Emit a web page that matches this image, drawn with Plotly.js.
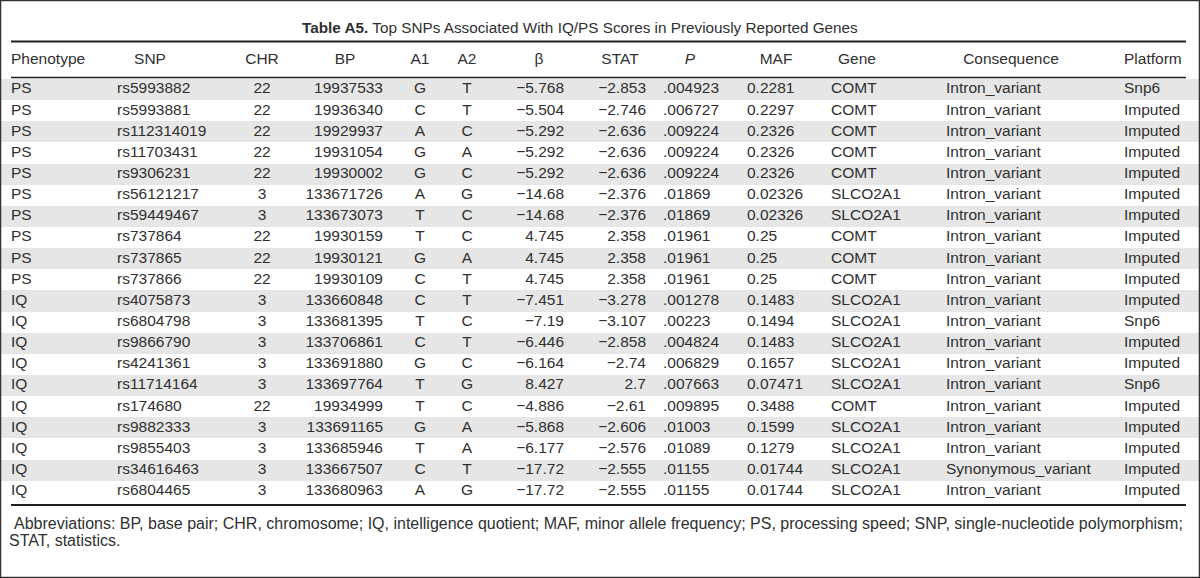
<!DOCTYPE html>
<html>
<head>
<meta charset="utf-8">
<script src="https://cdn.plot.ly/plotly-3.0.1.min.js"></script>
<style>
html,body{margin:0;padding:0;background:#fff;}
#chart{width:1200px;height:578px;}
</style>
</head>
<body>
<div id="chart"></div>
<script>
// ---- data ----
const headers = ['Phenotype','SNP','CHR','BP','A1','A2','\u03b2','STAT','<i>P</i>','MAF','Gene','Consequence','Platform'];
const phenotype = ['PS','PS','PS','PS','PS','PS','PS','PS','PS','PS','IQ','IQ','IQ','IQ','IQ','IQ','IQ','IQ','IQ','IQ'];
const snp = ['rs5993882','rs5993881','rs112314019','rs11703431','rs9306231','rs56121217','rs59449467','rs737864','rs737865','rs737866',
             'rs4075873','rs6804798','rs9866790','rs4241361','rs11714164','rs174680','rs9882333','rs9855403','rs34616463','rs6804465'];
const chr = [22,22,22,22,22,3,3,22,22,22,3,3,3,3,3,22,3,3,3,3];
const bp = [19937533,19936340,19929937,19931054,19930002,133671726,133673073,19930159,19930121,19930109,
            133660848,133681395,133706861,133691880,133697764,19934999,133691165,133685946,133667507,133680963];
const a1 = ['G','C','A','G','G','A','T','T','G','C','C','T','C','G','T','T','G','T','C','A'];
const a2 = ['T','T','C','A','C','G','C','C','A','T','T','C','T','C','G','C','A','A','T','G'];
const beta = [-5.768,-5.504,-5.292,-5.292,-5.292,-14.68,-14.68,4.745,4.745,4.745,
              -7.451,-7.19,-6.446,-6.164,8.427,-4.886,-5.868,-6.177,-17.72,-17.72];
const stat = [-2.853,-2.746,-2.636,-2.636,-2.636,-2.376,-2.376,2.358,2.358,2.358,
              -3.278,-3.107,-2.858,-2.74,2.7,-2.61,-2.606,-2.576,-2.555,-2.555];
const pval = [0.004923,0.006727,0.009224,0.009224,0.009224,0.01869,0.01869,0.01961,0.01961,0.01961,
              0.001278,0.00223,0.004824,0.006829,0.007663,0.009895,0.01003,0.01089,0.01155,0.01155];
const maf = [0.2281,0.2297,0.2326,0.2326,0.2326,0.02326,0.02326,0.25,0.25,0.25,
             0.1483,0.1494,0.1483,0.1657,0.07471,0.3488,0.1599,0.1279,0.01744,0.01744];
const gene = ['COMT','COMT','COMT','COMT','COMT','SLCO2A1','SLCO2A1','COMT','COMT','COMT',
              'SLCO2A1','SLCO2A1','SLCO2A1','SLCO2A1','SLCO2A1','COMT','SLCO2A1','SLCO2A1','SLCO2A1','SLCO2A1'];
const consequence = ['Intron_variant','Intron_variant','Intron_variant','Intron_variant','Intron_variant','Intron_variant','Intron_variant','Intron_variant','Intron_variant','Intron_variant',
                     'Intron_variant','Intron_variant','Intron_variant','Intron_variant','Intron_variant','Intron_variant','Intron_variant','Intron_variant','Synonymous_variant','Intron_variant'];
const platform = ['Snp6','Imputed','Imputed','Imputed','Imputed','Imputed','Imputed','Imputed','Imputed','Imputed',
                  'Imputed','Snp6','Imputed','Imputed','Snp6','Imputed','Imputed','Imputed','Imputed','Imputed'];
const titleText = '<b>Table A5.</b> Top SNPs Associated With IQ/PS Scores in Previously Reported Genes';
const footLine1 = 'Abbreviations: BP, base pair; CHR, chromosome; IQ, intelligence quotient; MAF, minor allele frequency; PS, processing speed; SNP, single-nucleotide polymorphism;';
const footLine2 = 'STAT, statistics.';

// ---- formatting ----
const minus = v => String(v).replace('-', '\u2212');
const pfmt = v => String(v).replace(/^0/, '');

// ---- layout geometry ----
const FONT = '"Liberation Sans", Arial, Helvetica, sans-serif';
const TXT = '#303030';
const FS = 15.5;
const ROW0 = 89.5, PITCH = 21.15;
const HEADY = 60.5;
const rowY = snp.map((_, i) => ROW0 + i * PITCH);

// column: values, data anchor x, data align, header anchor x, header align
const cols = [
  {v: phenotype, x: 11, a: 'l', hx: 11, ha: 'l'},
  {v: snp, x: 117, a: 'l', hx: 150, ha: 'c'},
  {v: chr, x: 262, a: 'c', hx: 262, ha: 'c'},
  {v: bp, x: 383, a: 'r', hx: 345, ha: 'c'},
  {v: a1, x: 420, a: 'c', hx: 420, ha: 'c'},
  {v: a2, x: 467, a: 'c', hx: 467, ha: 'c'},
  {v: beta.map(minus), x: 564, a: 'r', hx: 539, ha: 'c'},
  {v: stat.map(minus), x: 646, a: 'r', hx: 620, ha: 'c'},
  {v: pval.map(pfmt), x: 663, a: 'l', hx: 690, ha: 'c'},
  {v: maf, x: 747, a: 'l', hx: 776, ha: 'c'},
  {v: gene, x: 831, a: 'l', hx: 857, ha: 'c'},
  {v: consequence, x: 946, a: 'l', hx: 1011, ha: 'c'},
  {v: platform, x: 1124, a: 'l', hx: 1124, ha: 'l'}
];
const pos = {l: 'middle right', r: 'middle left', c: 'middle center'};

const traces = [];
// stripes (odd-numbered rows shaded)
const stripeY = rowY.filter((_, i) => i % 2 === 0);
traces.push({
  type: 'bar', orientation: 'h', y: stripeY, x: stripeY.map(() => 1200), base: 0,
  width: PITCH, marker: {color: '#e6e6e6', line: {width: 0}}, hoverinfo: 'skip', showlegend: false
});
cols.forEach((c, k) => {
  traces.push({
    type: 'scatter', mode: 'text', x: c.v.map(() => c.x), y: rowY,
    text: c.v.map(String), textposition: pos[c.a],
    textfont: {family: FONT, size: FS, color: TXT},
    hoverinfo: 'skip', showlegend: false, cliponaxis: false
  });
  traces.push({
    type: 'scatter', mode: 'text', x: [c.hx], y: [HEADY],
    text: [headers[k]], textposition: pos[c.ha],
    textfont: {family: FONT, size: FS, color: TXT},
    hoverinfo: 'skip', showlegend: false, cliponaxis: false
  });
});

const lastRowBottom = rowY[rowY.length - 1] + PITCH / 2;
const rule = (y, w) => ({type: 'line', xref: 'x', yref: 'y', x0: 11, x1: 1186, y0: y, y1: y, line: {color: '#231f20', width: w}});

const layout = {
  width: 1200, height: 578,
  margin: {l: 0, r: 0, t: 0, b: 0},
  paper_bgcolor: '#fff', plot_bgcolor: '#fff',
  xaxis: {range: [0, 1200], visible: false, fixedrange: true},
  yaxis: {range: [578, 0], visible: false, fixedrange: true},
  bargap: 0,
  shapes: [
    rule(41.5, 2),
    rule(77.5, 1.5),
    rule(lastRowBottom + 3, 2),
    {type: 'rect', xref: 'paper', yref: 'paper', x0: 0, x1: 1, y0: 0, y1: 1, line: {color: '#333', width: 2.5}}
  ],
  annotations: [
    {xref: 'x', yref: 'y', x: 580, y: 27, text: titleText, showarrow: false, xanchor: 'center', yanchor: 'middle',
     font: {family: FONT, size: 15.3, color: TXT}},
    {xref: 'x', yref: 'y', x: 12, y: lastRowBottom + 22, text: footLine1, showarrow: false, xanchor: 'left', yanchor: 'middle',
     font: {family: FONT, size: 16, color: TXT}},
    {xref: 'x', yref: 'y', x: 7, y: lastRowBottom + 39, text: footLine2, showarrow: false, xanchor: 'left', yanchor: 'middle',
     font: {family: FONT, size: 16, color: TXT}}
  ]
};

Plotly.newPlot('chart', traces, layout, {staticPlot: true, displayModeBar: false});
</script>
</body>
</html>
